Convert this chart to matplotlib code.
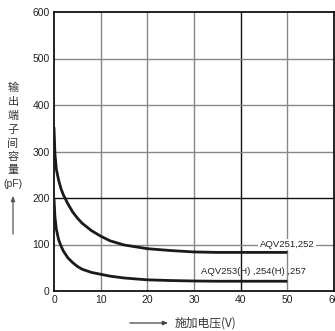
import matplotlib
matplotlib.use("Agg")
import matplotlib.pyplot as plt

plt.rcParams['font.family'] = ['Liberation Sans', 'Noto Sans CJK SC', 'DejaVu Sans']

# data
voltage = [0, 0.2, 0.5, 1, 1.5, 2, 3, 4, 5, 6, 8, 10, 12, 15, 20, 25, 30, 35, 40, 45, 50]
cap_251_252 = [352, 295, 262, 238, 220, 207, 187, 170, 157, 146, 130, 118, 108, 99, 91, 87, 84, 83, 83, 83, 83]
cap_253_254_257 = [198, 160, 133, 110, 97, 86, 71, 61, 53, 47, 40, 36, 32, 28, 24, 22.5, 21.5, 21, 21, 21, 21]

xticks = [0, 10, 20, 30, 40, 50, 60]
yticks = [0, 100, 200, 300, 400, 500, 600]
label_upper = "AQV251,252"
label_lower = "AQV253(H) ,254(H) ,257"
ylabel_chars = ["输", "出", "端", "子", "间", "容", "量"]
ylabel_unit = "(pF)"
xlabel_text = "施加电压(V)"

W, H = 335, 331
fig = plt.figure(figsize=(W / 100, H / 100), dpi=100)
ax = fig.add_axes([54 / W, 1 - 291 / H, (334 - 54) / W, (291 - 12) / H])

ax.set_xlim(0, 60)
ax.set_ylim(0, 600)
ax.set_xticks(xticks)
ax.set_yticks(yticks)
ax.tick_params(length=0, labelsize=7.5, colors='#222222', pad=3)
for s in ax.spines.values():
    s.set_linewidth(1.3)
    s.set_color('#111111')

for xv in xticks[1:-1]:
    ax.axvline(xv, color='#111111' if xv == 40 else '#888888', lw=1.0, zorder=1)
for yv in yticks[1:-1]:
    ax.axhline(yv, color='#111111' if yv == 200 else '#888888', lw=1.0, zorder=1)

ax.plot(voltage, cap_251_252, color='#1a1a1a', lw=2.0, zorder=3, solid_capstyle='butt')
ax.plot(voltage, cap_253_254_257, color='#1a1a1a', lw=2.0, zorder=3, solid_capstyle='butt')

ax.text(55.8, 100, label_upper, ha='right', va='center', fontsize=6.8, color='#222222',
        bbox=dict(facecolor='white', edgecolor='none', pad=1.0), zorder=4)
ax.text(54.0, 42, label_lower, ha='right', va='center', fontsize=6.8, color='#222222',
        zorder=4)

# vertical y label
cjk = ['Noto Sans CJK SC', 'DejaVu Sans']
ys = [88, 102, 116, 130, 144, 157, 170]
for ch, yp in zip(ylabel_chars, ys):
    fig.text(13 / W, 1 - yp / H, ch, ha='center', va='center', fontsize=8,
             color='#333333', family=cjk)
fig.text(13 / W, 1 - 184 / H, ylabel_unit, ha='center', va='center', fontsize=7.5, color='#333333')
fig.patches.append(matplotlib.patches.FancyArrowPatch(
    (13 / W, 1 - 237 / H), (13 / W, 1 - 193 / H), transform=fig.transFigure,
    arrowstyle='-|>,head_length=3,head_width=1.2', color='#555555', lw=0.9, mutation_scale=1))

# x label
fig.patches.append(matplotlib.patches.FancyArrowPatch(
    (127 / W, 1 - 323 / H), (171 / W, 1 - 323 / H), transform=fig.transFigure,
    arrowstyle='-|>,head_length=3,head_width=1.2', color='#444444', lw=0.9, mutation_scale=1))
fig.text(175 / W, 1 - 323 / H, xlabel_text, ha='left', va='center', fontsize=8.5,
         color='#333333', family=['Noto Sans CJK SC', 'Liberation Sans'])

fig.savefig("out.png", dpi=100)
